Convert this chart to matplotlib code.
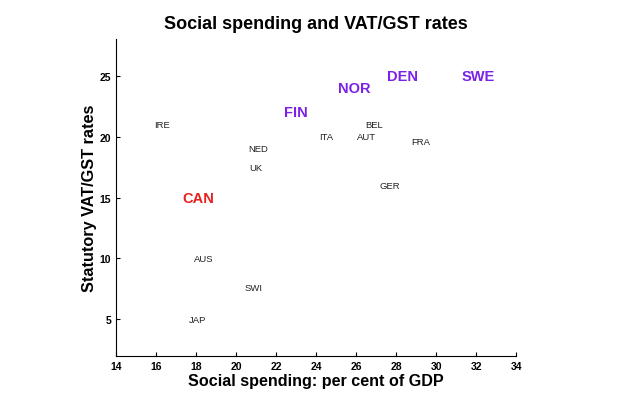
import matplotlib.pyplot as plt
plt.rcParams['font.family'] = ['Liberation Sans', 'DejaVu Sans']

# countries, social spending (% of GDP), VAT/GST rate (%)
small_names = ['IRE', 'NED', 'UK', 'ITA', 'AUT', 'BEL', 'GER', 'FRA', 'AUS', 'SWI', 'JAP']
small_x = [16.3, 21.1, 21.0, 24.5, 26.5, 26.9, 27.7, 29.2, 18.4, 20.9, 18.1]
small_y = [21.0, 19.0, 17.5, 20.0, 20.0, 21.0, 16.0, 19.6, 10.0, 7.6, 5.0]

nordic_names = ['FIN', 'NOR', 'DEN', 'SWE']
nordic_x = [23.0, 25.9, 28.3, 32.1]
nordic_y = [22.0, 24.0, 25.0, 25.0]

can_name = 'CAN'
can_x = 18.1
can_y = 15.0

xticks = [14, 16, 18, 20, 22, 24, 26, 28, 30, 32, 34]
yticks = [5, 10, 15, 20, 25]

fig = plt.figure(figsize=(6.4, 4.14), dpi=100)
ax = fig.add_axes([0.181, 0.138, 0.626, 0.765])

for n, x, y in zip(small_names, small_x, small_y):
    ax.text(x, y, n, ha='center', va='center', fontsize=6.8, color='#222222')
for n, x, y in zip(nordic_names, nordic_x, nordic_y):
    ax.text(x, y, n, ha='center', va='center', fontsize=10.5, fontweight='bold', color='#7b22e8')
ax.text(can_x, can_y, can_name, ha='center', va='center', fontsize=10.5, fontweight='bold', color='#e8201e')

ax.set_xlim(14, 34)
ax.set_ylim(2, 28)
ax.set_xticks(xticks)
ax.set_yticks(yticks)
ax.tick_params(direction='in', length=3, width=0.8, labelsize=7.5)
ax.tick_params(axis='x', pad=4)
for lab in ax.get_xticklabels() + ax.get_yticklabels():
    lab.set_fontweight('bold')
ax.spines['top'].set_visible(False)
ax.spines['right'].set_visible(False)

ax.set_title('Social spending and VAT/GST rates', fontsize=13, fontweight='bold', pad=8)
ax.set_xlabel('Social spending: per cent of GDP', fontsize=11.6, fontweight='bold', labelpad=1)
ax.set_ylabel('Statutory VAT/GST rates', fontsize=11.7, fontweight='bold', labelpad=2)

plt.savefig('out.png')
